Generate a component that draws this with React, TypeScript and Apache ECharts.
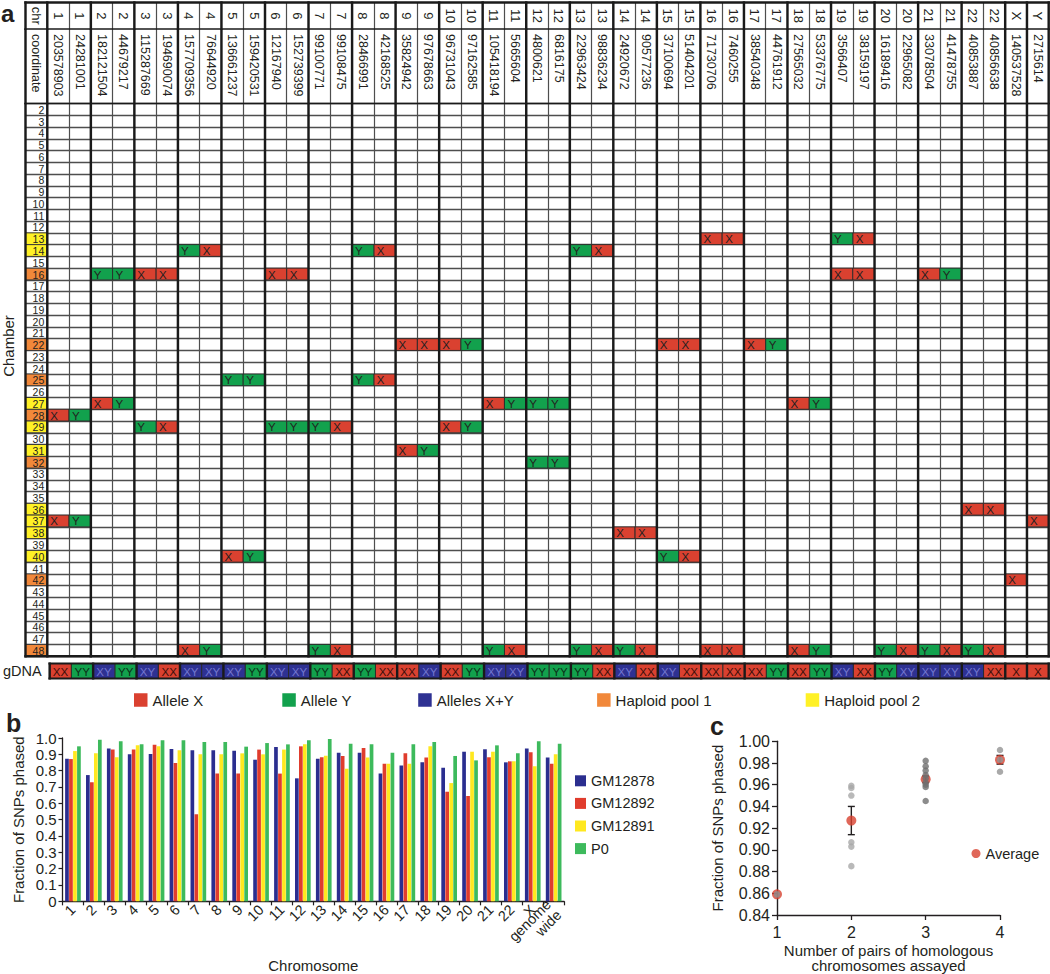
import React, { useEffect, useRef } from 'react';
import * as echarts from 'echarts';

const FONT = '"Liberation Sans", Arial, Helvetica, sans-serif';
const INK = '#231f20';
const FRAME = '#1a1a1a';
const THIN = '#4e4e4e';
const RED = '#da4130';
const GREEN = '#12a14d';
const BLUE = '#2e3192';
const ORANGE = '#f1883a';
const YELLOW = '#fff126';

// ---------------- panel a ----------------
const chrLabels = ['1','1','2','2','3','3','4','4','5','5','6','6','7','7','8','8','9','9','10','10','11','11','12','12','13','13','14','14','15','15','16','16','17','17','18','18','19','19','20','20','21','21','22','22','X','Y'];
const coordinates = ['203578903','24281001','182121504','44679217','115287669','194690074','157709356','76644920','136661237','159420531','12167940','152739399','99100771','99108475','28466991','42168525','35824942','97678663','96731043','97162585','105418194','5665604','4800621','6816175','22963424','98836234','24920672','90577236','37100694','51404201','71730706','7460255','38540348','44761912','27565032','53376775','3566407','38159197','16189416','22965082','33078504','41478755','40853887','40856638','140537528','2715614'];
const chambers = ['2','3','4','5','6','7','8','9','10','11','12','13','14','15','16','17','18','19','20','21','22','23','24','25','26','27','28','29','30','31','32','33','34','35','36','37','38','39','40','41','42','43','44','45','46','47','48'];
const haploidPool1 = ['16','22','25','28','32','42','48'];
const haploidPool2 = ['13','14','27','29','31','36','37','38','40'];
// [chamber, data column (0-based), allele]
const chamberCalls: [string, number, string][] = [
  ['13',30,'X'],['13',31,'X'],['13',36,'Y'],['13',37,'X'],
  ['14',6,'Y'],['14',7,'X'],['14',14,'Y'],['14',15,'X'],['14',24,'Y'],['14',25,'X'],
  ['16',2,'Y'],['16',3,'Y'],['16',4,'X'],['16',5,'X'],['16',10,'X'],['16',11,'X'],['16',36,'X'],['16',37,'X'],['16',40,'X'],['16',41,'Y'],
  ['22',16,'X'],['22',17,'X'],['22',18,'X'],['22',19,'Y'],['22',28,'X'],['22',29,'X'],['22',32,'X'],['22',33,'Y'],
  ['25',8,'Y'],['25',9,'Y'],['25',14,'Y'],['25',15,'X'],
  ['27',2,'X'],['27',3,'Y'],['27',20,'X'],['27',21,'Y'],['27',22,'Y'],['27',23,'Y'],['27',34,'X'],['27',35,'Y'],
  ['28',0,'X'],['28',1,'Y'],
  ['29',4,'Y'],['29',5,'X'],['29',10,'Y'],['29',11,'Y'],['29',12,'Y'],['29',13,'X'],['29',18,'X'],['29',19,'Y'],
  ['31',16,'X'],['31',17,'Y'],
  ['32',22,'Y'],['32',23,'Y'],
  ['36',42,'X'],['36',43,'X'],
  ['37',0,'X'],['37',1,'Y'],['37',45,'X'],
  ['38',26,'X'],['38',27,'X'],
  ['40',8,'X'],['40',9,'Y'],['40',28,'Y'],['40',29,'X'],
  ['42',44,'X'],
  ['48',6,'X'],['48',7,'Y'],['48',12,'Y'],['48',13,'X'],['48',20,'Y'],['48',21,'X'],['48',24,'Y'],['48',25,'X'],['48',26,'Y'],['48',27,'X'],
  ['48',30,'X'],['48',31,'X'],['48',34,'X'],['48',35,'Y'],['48',38,'Y'],['48',39,'X'],['48',40,'Y'],['48',41,'X'],['48',42,'Y'],['48',43,'X'],
];
const gDNACalls = ['XX','YY','XY','YY','XY','XX','XY','XY','XY','YY','XY','XY','YY','XX','YY','XX','XX','XY','XX','YY','XY','XY','YY','YY','YY','XX','XY','XX','XY','XX','XX','XX','XX','YY','XX','YY','XY','XX','YY','XY','XY','XY','XY','XX','X','X'];
const tableThickBoundaries = [0,1,3,5,7,9,11,13,15,17,19,21,23,25,27,29,31,33,35,37,39,41,43,45,46,47];
const gDNAThickBoundaries = [0,2,4,6,8,10,12,14,16,18,20,22,24,26,28,30,32,34,36,38,40,42,44,45,46];

// ---------------- panel b ----------------
const chromosomes = ['1','2','3','4','5','6','7','8','9','10','11','12','13','14','15','16','17','18','19','20','21','22','X','genome\nwide'];
const gm12878 = [0.873,0.773,0.935,0.900,0.902,0.933,0.925,0.925,0.922,0.867,0.945,0.753,0.873,0.910,0.910,0.782,0.831,0.851,0.818,0.916,0.931,0.851,0.935,0.880];
const gm12892 = [0.871,0.729,0.929,0.929,0.959,0.847,0.533,0.782,0.782,0.929,0.782,0.949,0.882,0.890,0.939,0.843,0.906,0.880,0.671,0.645,0.882,0.857,0.912,0.843];
const gm12891 = [0.920,0.906,0.882,0.955,0.949,0.925,0.900,0.900,0.906,0.900,0.929,0.961,0.892,0.812,0.880,0.843,0.843,0.949,0.724,0.916,0.916,0.857,0.827,0.900];
const p0 = [0.949,0.990,0.980,0.961,0.986,0.986,0.975,0.975,0.947,0.969,0.961,0.986,0.994,0.965,0.961,0.910,0.961,0.975,0.890,0.863,0.955,0.906,0.980,0.965];

// ---------------- panel c ----------------
const pairCounts = [1, 2, 3, 4];
const individualFractions = [
  [0.859],
  [0.959, 0.957, 0.950, 0.907, 0.903, 0.885],
  [0.982, 0.977, 0.973, 0.969, 0.966, 0.962, 0.960, 0.958, 0.945],
  [0.992, 0.983, 0.972],
];
const averageFractions = [0.859, 0.927, 0.965, 0.983];
const errorLow = [0.859, 0.914, 0.962, 0.979];
const errorHigh = [0.859, 0.940, 0.968, 0.987];
const individualGreys = ['#8e8e8e', '#a8a8a8', '#6f6f6f', '#939393'];

type Cell = { col: number; row: number; text: string };

function cellSeries(name: string, gridIdx: number, cells: Cell[], fill: string, textFill: string, align: string, z: number) {
  return {
    type: 'custom', name, xAxisIndex: gridIdx, yAxisIndex: gridIdx, z,
    itemStyle: { color: fill },
    data: cells.map((c) => [c.col, c.row]),
    renderItem: (params: any, api: any) => {
      const p = api.coord([api.value(0), api.value(1)]);
      const s = api.size([1, 1]);
      const t = cells[params.dataIndex].text;
      const tx = align === 'left' ? p[0] - s[0] / 2 + 3 : p[0];
      return {
        type: 'group',
        children: [
          { type: 'rect', shape: { x: p[0] - s[0] / 2, y: p[1] - s[1] / 2, width: s[0], height: s[1] }, style: { fill, stroke: '#2a2a2a', lineWidth: 0.9 } },
          { type: 'text', x: tx, y: p[1] + 0.5, style: { text: t, fill: textFill, font: `11.5px ${FONT}`, align, verticalAlign: 'middle', textAlign: align, textVerticalAlign: 'middle' } },
        ],
      };
    },
  };
}

function frameSeries(gridIdx: number, boundaries: number[], topW: number, bottomW: number) {
  return {
    type: 'custom', xAxisIndex: gridIdx, yAxisIndex: gridIdx, z: 8, silent: true,
    encode: { x: 0, y: 1 },
    data: boundaries.map((b) => [0, 0, b]),
    renderItem: (params: any, api: any) => {
      const cs = params.coordSys;
      const origin = api.coord([0, 0]);
      const s = api.size([1, 1]);
      const left = origin[0] - s[0] / 2;
      const x = left + api.value(2) * s[0];
      const children: any[] = [
        { type: 'line', shape: { x1: x, y1: cs.y - topW / 2, x2: x, y2: cs.y + cs.height + bottomW / 2 }, style: { stroke: FRAME, lineWidth: 2.4 } },
      ];
      if (params.dataIndex === 0) {
        if (topW > 0) children.push({ type: 'line', shape: { x1: cs.x - 1.2, y1: cs.y, x2: cs.x + cs.width + 1.2, y2: cs.y }, style: { stroke: FRAME, lineWidth: topW } });
        if (bottomW > 0) children.push({ type: 'line', shape: { x1: cs.x - 1.2, y1: cs.y + cs.height, x2: cs.x + cs.width + 1.2, y2: cs.y + cs.height }, style: { stroke: FRAME, lineWidth: bottomW } });
      }
      return { type: 'group', children };
    },
  };
}

function tableAxisX(gridIndex: number, data: string[], color: string) {
  return {
    type: 'category', gridIndex, data, boundaryGap: true,
    axisLine: { show: false }, axisTick: { show: false }, axisLabel: { show: false },
    splitLine: { show: true, interval: 0, lineStyle: { color, width: 1.2 } },
  };
}

function tableAxisY(gridIndex: number, data: string[], split: boolean, inverse: boolean) {
  return {
    type: 'category', gridIndex, data, inverse,
    axisLine: { show: false }, axisTick: { show: false }, axisLabel: { show: false },
    splitLine: { show: split, interval: 0, lineStyle: { color: THIN, width: 1.3 } },
  };
}

function buildOption() {
  const tableCols = ['', ...coordinates];
  const headerChr = ['chr', ...chrLabels];
  const headerCoord = ['coordinate', ...coordinates];

  const alleleCells = (allele: string): Cell[] =>
    chamberCalls.filter((c) => c[2] === allele).map((c) => ({ col: c[1] + 1, row: chambers.indexOf(c[0]), text: c[2] }));
  const gCells = (kinds: string[]): Cell[] =>
    gDNACalls.map((g, i) => ({ col: i, row: 0, text: g })).filter((c) => kinds.includes(c.text));
  const poolCells = (pool: string[]): Cell[] => pool.map((ch) => ({ col: 0, row: chambers.indexOf(ch), text: ch }));

  const poolSeries = (name: string, pool: string[], fill: string) => {
    const cells = poolCells(pool);
    return {
      type: 'custom', name, xAxisIndex: 2, yAxisIndex: 2, z: 3,
      itemStyle: { color: fill },
      data: cells.map((c) => [c.col, c.row]),
      renderItem: (params: any, api: any) => {
        const p = api.coord([api.value(0), api.value(1)]);
        const s = api.size([1, 1]);
        return { type: 'rect', shape: { x: p[0] - s[0] / 2, y: p[1] - s[1] / 2, width: s[0], height: s[1] }, style: { fill, stroke: '#3a3a3a', lineWidth: 1 } };
      },
    };
  };

  const legendA = (name: string, left: number) => ({
    data: [name], left, top: 692.5, icon: 'rect', itemWidth: 13.5, itemHeight: 13.5, padding: 0,
    selectedMode: false, textStyle: { fontSize: 15, color: INK, fontFamily: FONT },
  });

  const individualData: any[] = [];
  individualFractions.forEach((vals, gi) => {
    vals.forEach((v) => individualData.push({ value: [pairCounts[gi], v], itemStyle: { color: individualGreys[gi] } }));
  });

  return {
    animation: false,
    backgroundColor: '#ffffff',
    textStyle: { fontFamily: FONT, color: INK },
    grid: [
      { left: 25.5, width: 1023.2, top: 2.5, height: 26.5 },
      { left: 25.5, width: 1023.2, top: 29, height: 74.5 },
      { left: 25.5, width: 1023.2, top: 103.5, height: 552.7 },
      { left: 47.3, width: 1001.4, top: 663.5, height: 15 },
      { left: 62.5, width: 501.6, top: 738, height: 173 },
      { left: 777, width: 223, top: 741.3, height: 174.4 },
    ],
    xAxis: [
      tableAxisX(0, tableCols, THIN),
      tableAxisX(1, tableCols, THIN),
      tableAxisX(2, tableCols, THIN),
      tableAxisX(3, coordinates, '#2a2a2a'),
      {
        type: 'category', gridIndex: 4, data: chromosomes,
        axisLine: { lineStyle: { color: INK, width: 1.3 } },
        axisTick: { show: true, interval: 0, length: 4, lineStyle: { color: INK, width: 1.2 } },
        axisLabel: { interval: 0, rotate: 45, fontSize: 14.5, color: INK, margin: 6, lineHeight: 15 },
        name: 'Chromosome', nameLocation: 'middle', nameGap: 40,
        nameTextStyle: { fontSize: 15, color: INK },
      },
      {
        type: 'value', gridIndex: 5, min: 1, max: 4, interval: 1,
        axisLine: { lineStyle: { color: INK, width: 1.4 } },
        axisTick: { show: true, length: 5, lineStyle: { color: INK, width: 1.3 } },
        axisLabel: { fontSize: 16, color: INK, margin: 9 },
        splitLine: { show: false },
        name: 'Number of pairs of homologous\nchromosomes assayed', nameLocation: 'middle', nameGap: 28,
        nameTextStyle: { fontSize: 15, color: INK, lineHeight: 15 },
      },
    ],
    yAxis: [
      tableAxisY(0, ['chr'], false, false),
      tableAxisY(1, ['coordinate'], false, false),
      tableAxisY(2, chambers, true, true),
      {
        type: 'category', gridIndex: 3, data: ['gDNA'],
        axisLine: { show: false }, axisTick: { show: false },
        axisLabel: { show: true, fontSize: 14.5, color: INK, margin: 8 },
        splitLine: { show: false },
      },
      {
        type: 'value', gridIndex: 4, min: 0, max: 1, interval: 0.1,
        axisLine: { show: true, lineStyle: { color: INK, width: 1.3 } },
        axisTick: { show: true, length: 4, lineStyle: { color: INK, width: 1.2 } },
        axisLabel: { fontSize: 15, color: INK, margin: 6, formatter: (v: number) => (v === 0 ? '0' : v.toFixed(1)) },
        splitLine: { show: false },
        name: 'Fraction of SNPs phased', nameLocation: 'middle', nameGap: 37,
        nameTextStyle: { fontSize: 15, color: INK },
      },
      {
        type: 'value', gridIndex: 5, min: 0.84, max: 1.0, interval: 0.02,
        axisLine: { show: true, lineStyle: { color: INK, width: 1.4 } },
        axisTick: { show: true, length: 5, lineStyle: { color: INK, width: 1.3 } },
        axisLabel: { fontSize: 16, color: INK, margin: 7, formatter: (v: number) => v.toFixed(2) },
        splitLine: { show: false },
        name: 'Fraction of SNPs phased', nameLocation: 'middle', nameGap: 52,
        nameTextStyle: { fontSize: 15, color: INK },
      },
    ],
    legend: [
      legendA('Allele X', 134),
      legendA('Allele Y', 282.3),
      legendA('Alleles X+Y', 418.2),
      legendA('Haploid pool 1', 597.1),
      legendA('Haploid pool 2', 805.7),
      {
        data: ['GM12878', 'GM12892', 'GM12891', 'P0'], orient: 'vertical', left: 575, top: 773.3,
        icon: 'rect', itemWidth: 11, itemHeight: 11, itemGap: 7.6, padding: 0, selectedMode: false,
        textStyle: { fontSize: 14.5, color: INK, fontFamily: FONT },
      },
      {
        data: ['Average'], left: 971.5, top: 846, icon: 'circle', itemWidth: 9, itemHeight: 9, padding: 0,
        selectedMode: false, textStyle: { fontSize: 14.5, color: INK, fontFamily: FONT },
      },
    ],
    graphic: [
      { type: 'text', x: 1, y: 13.5, style: { text: 'a', font: `bold 24px ${FONT}`, fill: INK, align: 'left', verticalAlign: 'middle', textAlign: 'left', textVerticalAlign: 'middle' } },
      { type: 'text', x: 6, y: 723.3, style: { text: 'b', font: `bold 25px ${FONT}`, fill: INK, align: 'left', verticalAlign: 'middle', textAlign: 'left', textVerticalAlign: 'middle' } },
      { type: 'text', x: 710, y: 726.3, style: { text: 'c', font: `bold 25px ${FONT}`, fill: INK, align: 'left', verticalAlign: 'middle', textAlign: 'left', textVerticalAlign: 'middle' } },
      { type: 'text', x: 8.5, y: 346, rotation: Math.PI / 2, style: { text: 'Chamber', font: `15px ${FONT}`, fill: INK, align: 'center', verticalAlign: 'middle', textAlign: 'center', textVerticalAlign: 'middle' } },
    ],
    series: [
      // header: chromosome row
      {
        type: 'custom', xAxisIndex: 0, yAxisIndex: 0, z: 4, silent: true,
        data: headerChr.map((_, i) => [i, 0]),
        renderItem: (params: any, api: any) => {
          const p = api.coord([api.value(0), api.value(1)]);
          return { type: 'text', x: p[0], y: p[1], rotation: -Math.PI / 2, style: { text: headerChr[params.dataIndex], fill: INK, font: `13px ${FONT}`, align: 'center', verticalAlign: 'middle', textAlign: 'center', textVerticalAlign: 'middle' } };
        },
      },
      // header: coordinate row
      {
        type: 'custom', xAxisIndex: 1, yAxisIndex: 1, z: 4, silent: true,
        data: headerCoord.map((_, i) => [i, 0]),
        renderItem: (params: any, api: any) => {
          const p = api.coord([api.value(0), api.value(1)]);
          const s = api.size([1, 1]);
          return { type: 'text', x: p[0], y: p[1] - s[1] / 2 + 5, rotation: -Math.PI / 2, style: { text: headerCoord[params.dataIndex], fill: INK, font: `12.5px ${FONT}`, align: 'left', verticalAlign: 'middle', textAlign: 'left', textVerticalAlign: 'middle' } };
        },
      },
      poolSeries('Haploid pool 1', haploidPool1, ORANGE),
      poolSeries('Haploid pool 2', haploidPool2, YELLOW),
      // chamber numbers
      {
        type: 'custom', xAxisIndex: 2, yAxisIndex: 2, z: 5, silent: true,
        data: chambers.map((_, i) => [0, i]),
        renderItem: (params: any, api: any) => {
          const p = api.coord([api.value(0), api.value(1)]);
          const s = api.size([1, 1]);
          return { type: 'text', x: p[0] + s[0] / 2 - 3, y: p[1] + 0.5, style: { text: chambers[params.dataIndex], fill: INK, font: `10.5px ${FONT}`, align: 'right', verticalAlign: 'middle', textAlign: 'right', textVerticalAlign: 'middle' } };
        },
      },
      cellSeries('Allele X', 2, alleleCells('X'), RED, INK, 'left', 3),
      cellSeries('Allele Y', 2, alleleCells('Y'), GREEN, INK, 'left', 3),
      frameSeries(0, tableThickBoundaries, 2.4, 1.3),
      frameSeries(1, tableThickBoundaries, 0, 1.3),
      frameSeries(2, tableThickBoundaries, 0, 2.4),
      // gDNA row
      cellSeries('Allele X', 3, gCells(['XX', 'X']), RED, '#3a0f0a', 'center', 3),
      cellSeries('Allele Y', 3, gCells(['YY']), GREEN, '#0b2e17', 'center', 3),
      cellSeries('Alleles X+Y', 3, gCells(['XY']), BLUE, '#7377cf', 'center', 3),
      frameSeries(3, gDNAThickBoundaries, 2, 2),
      // panel b
      { type: 'bar', name: 'GM12878', xAxisIndex: 4, yAxisIndex: 4, data: gm12878, itemStyle: { color: '#2b2e8f' }, barGap: '8%', barCategoryGap: '25%' },
      { type: 'bar', name: 'GM12892', xAxisIndex: 4, yAxisIndex: 4, data: gm12892, itemStyle: { color: '#e03c2d' }, barGap: '8%', barCategoryGap: '25%' },
      { type: 'bar', name: 'GM12891', xAxisIndex: 4, yAxisIndex: 4, data: gm12891, itemStyle: { color: '#ffe81f' }, barGap: '8%', barCategoryGap: '25%' },
      { type: 'bar', name: 'P0', xAxisIndex: 4, yAxisIndex: 4, data: p0, itemStyle: { color: '#3dba5c' }, barGap: '8%', barCategoryGap: '25%' },
      // panel c
      {
        type: 'custom', name: 'error', xAxisIndex: 5, yAxisIndex: 5, z: 3, silent: true,
        data: pairCounts.map((x, i) => [x, errorLow[i], errorHigh[i]]),
        encode: { x: 0, y: [1, 2] },
        renderItem: (params: any, api: any) => {
          const lo = api.coord([api.value(0), api.value(1)]);
          const hi = api.coord([api.value(0), api.value(2)]);
          if (Math.abs(lo[1] - hi[1]) < 0.5) return { type: 'group', children: [] };
          const st = { stroke: INK, lineWidth: 1.4 };
          return {
            type: 'group',
            children: [
              { type: 'line', shape: { x1: lo[0], y1: lo[1], x2: hi[0], y2: hi[1] }, style: st },
              { type: 'line', shape: { x1: lo[0] - 3.5, y1: lo[1], x2: lo[0] + 3.5, y2: lo[1] }, style: st },
              { type: 'line', shape: { x1: hi[0] - 3.5, y1: hi[1], x2: hi[0] + 3.5, y2: hi[1] }, style: st },
            ],
          };
        },
      },
      {
        type: 'scatter', name: 'Average', xAxisIndex: 5, yAxisIndex: 5, z: 4, symbolSize: 10,
        itemStyle: { color: '#d8412f' },
        data: pairCounts.map((x, i) => [x, averageFractions[i]]),
      },
      {
        type: 'scatter', name: 'Individual', xAxisIndex: 5, yAxisIndex: 5, z: 5, symbolSize: 6.5,
        data: individualData,
      },
    ],
  };
}

export default function App() {
  const ref = useRef<HTMLDivElement>(null);
  useEffect(() => {
    if (!ref.current) return;
    const chart = echarts.init(ref.current, null, { renderer: 'svg' });
    chart.setOption(buildOption() as any);
    return () => chart.dispose();
  }, []);
  return <div ref={ref} style={{ position: 'absolute', left: 0, top: 0, width: 1050, height: 974, background: '#fff' }} />;
}
